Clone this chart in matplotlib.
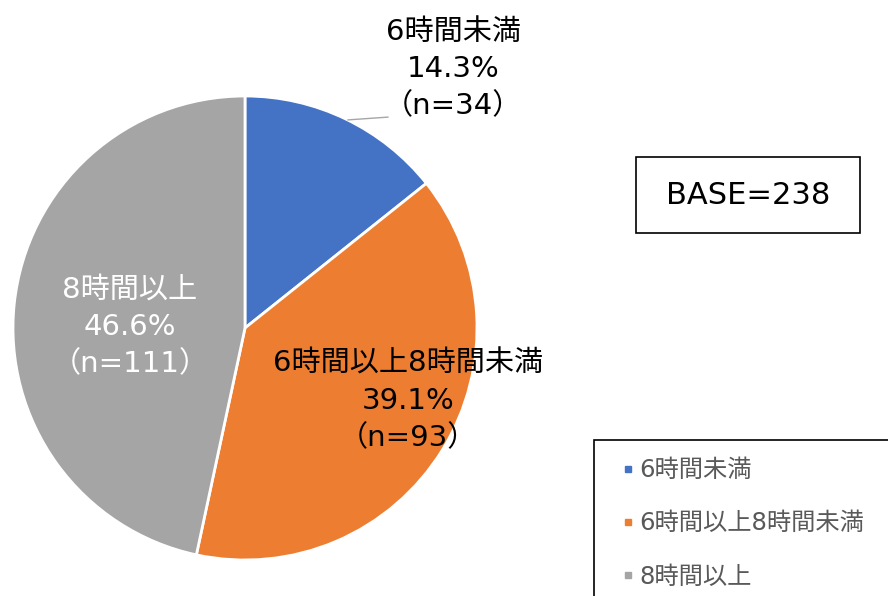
import matplotlib.pyplot as plt
from matplotlib.lines import Line2D
from matplotlib.patches import Rectangle

plt.rcParams['font.family'] = ['DejaVu Sans', 'Noto Sans CJK JP']

categories = ['6時間未満', '6時間以上8時間未満', '8時間以上']
counts = [34, 93, 111]
percents = ['14.3%', '39.1%', '46.6%']
colors = ['#4472C4', '#ED7D31', '#A5A5A5']
base_n = 238

fig = plt.figure(figsize=(8.88, 5.96), dpi=100)
ax = fig.add_axes([13 / 888, 36 / 596, 464 / 888, 464 / 596])
wedges, _ = ax.pie(counts, colors=colors, startangle=90, counterclock=False,
                   radius=1, wedgeprops=dict(edgecolor='white', linewidth=2))
ax.set_xlim(-1, 1)
ax.set_ylim(-1, 1)
ax.set_aspect('equal')
ax.axis('off')

# data labels
label_pos = [(0.897, 1.115), (0.703, -0.315), (-0.496, 0.005)]
label_col = ['#000000', '#000000', '#FFFFFF']
for cat, pct, n, (x, y), c in zip(categories, percents, counts, label_pos, label_col):
    ax.text(x, y, f'{cat}\n{pct}\n（n={n}）', ha='center', va='center',
            fontsize=21, color=c, linespacing=1.42, clip_on=False)

# leader line for the small slice
ax.plot([0.444, 0.616], [0.897, 0.909], color='#A6A6A6', lw=1, clip_on=False)

# BASE box
fig.add_artist(Rectangle((636 / 888, 363 / 596), 224 / 888, 76 / 596,
                         transform=fig.transFigure, fill=False,
                         edgecolor='black', lw=1.2))
fig.text(748 / 888, 401 / 596, f'BASE={base_n}', ha='center', va='center',
         fontsize=22, color='#000000')

# legend
fig.add_artist(Rectangle((594 / 888, -10 / 596), 300 / 888, 166 / 596,
                         transform=fig.transFigure, fill=False,
                         edgecolor='black', lw=1.2))
handles = [Line2D([], [], marker='s', linestyle='none', markersize=5,
                  markerfacecolor=c, markeredgecolor=c) for c in colors]
leg = fig.legend(handles, categories, loc='upper left',
                 bbox_to_anchor=(609 / 888, 1 - 446 / 596), frameon=False,
                 fontsize=17.5, labelcolor='#595959', handlelength=0.6,
                 handletextpad=0.15, labelspacing=1.2, borderpad=0)

fig.savefig('out.png', dpi=100)
